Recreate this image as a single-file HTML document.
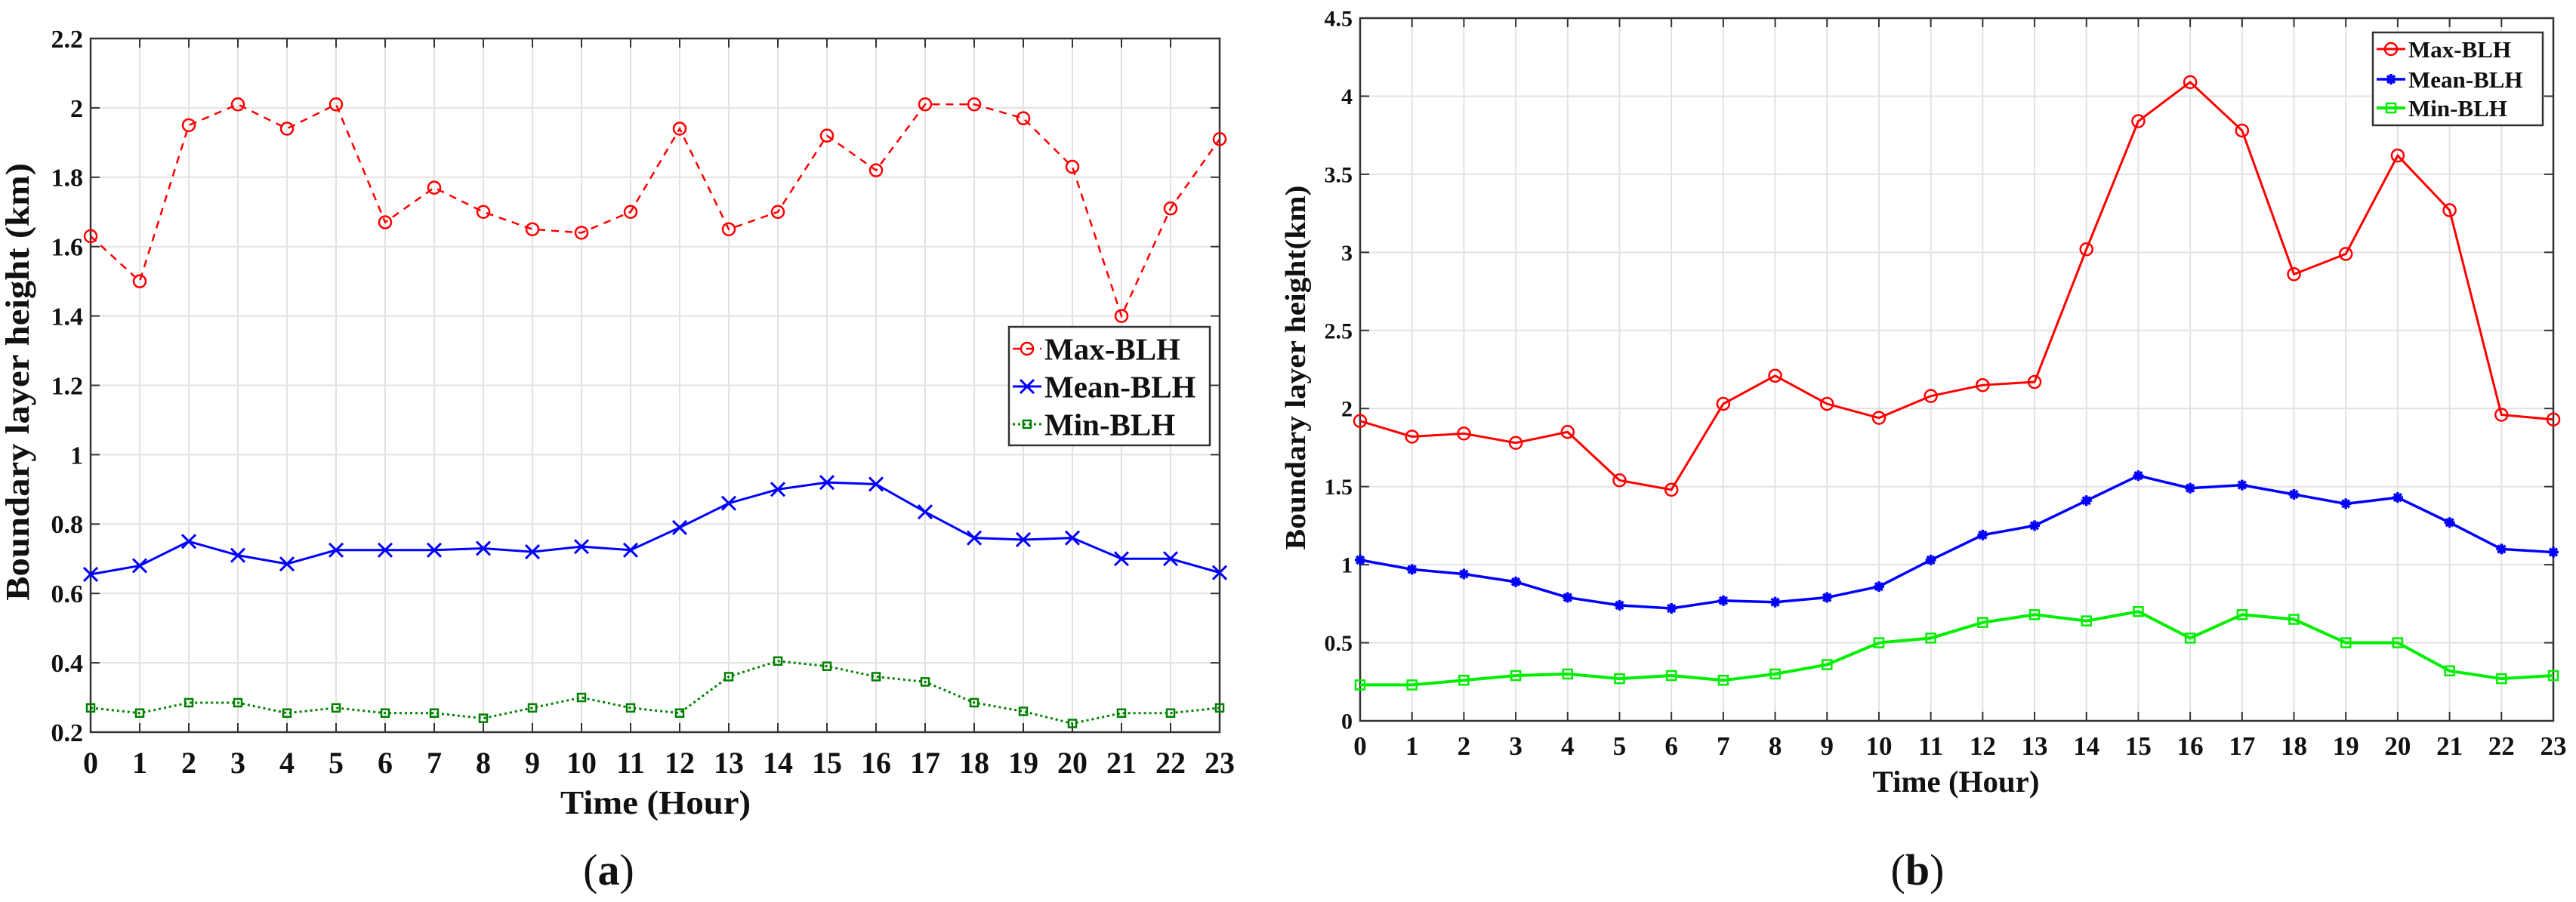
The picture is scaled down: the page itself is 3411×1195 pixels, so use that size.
<!DOCTYPE html>
<html><head><meta charset="utf-8">
<style>
html,body{margin:0;padding:0;background:#fff;}
svg{display:block;}
text{font-family:"Liberation Serif",serif;font-weight:bold;fill:#111;}
</style></head>
<body>
<svg id="fig" width="3411" height="1195" viewBox="0 0 3411 1195" xmlns="http://www.w3.org/2000/svg"></svg>
<script>
const hours = [0,1,2,3,4,5,6,7,8,9,10,11,12,13,14,15,16,17,18,19,20,21,22,23];
const aMax = [1.63,1.50,1.95,2.01,1.94,2.01,1.67,1.77,1.70,1.65,1.64,1.70,1.94,1.65,1.70,1.92,1.82,2.01,2.01,1.97,1.83,1.40,1.71,1.91];
const aMean = [0.655,0.68,0.75,0.71,0.685,0.725,0.725,0.725,0.73,0.72,0.735,0.725,0.79,0.86,0.90,0.92,0.915,0.835,0.76,0.755,0.76,0.70,0.70,0.66];
const aMin = [0.27,0.255,0.285,0.285,0.255,0.27,0.255,0.255,0.24,0.27,0.30,0.27,0.255,0.36,0.405,0.39,0.36,0.345,0.285,0.26,0.225,0.255,0.255,0.27];
const aTicks = [0.2,0.4,0.6,0.8,1,1.2,1.4,1.6,1.8,2,2.2];
const bMax = [1.92,1.82,1.84,1.78,1.85,1.54,1.48,2.03,2.21,2.03,1.94,2.08,2.15,2.17,3.02,3.84,4.09,3.78,2.86,2.99,3.62,3.27,1.96,1.93];
const bMean = [1.03,0.97,0.94,0.89,0.79,0.74,0.72,0.77,0.76,0.79,0.86,1.03,1.19,1.25,1.41,1.57,1.49,1.51,1.45,1.39,1.43,1.27,1.10,1.08];
const bMin = [0.23,0.23,0.26,0.29,0.30,0.27,0.29,0.26,0.30,0.36,0.50,0.53,0.63,0.68,0.64,0.70,0.53,0.68,0.65,0.50,0.50,0.32,0.27,0.29];
const bTicks = [0,0.5,1,1.5,2,2.5,3,3.5,4,4.5];
const bTickLabels = ["0","0.5","1","1.5","2","2.5","3","3.5","4","4.5"];
const seriesNames = ["Max-BLH","Mean-BLH","Min-BLH"];

const NS="http://www.w3.org/2000/svg";
const svg=document.getElementById('fig');
function el(tag,attrs,parent){const e=document.createElementNS(NS,tag);for(const k in attrs)e.setAttribute(k,attrs[k]);(parent||svg).appendChild(e);return e;}
function txt(s,attrs,parent){const e=el('text',attrs,parent);e.textContent=s;return e;}

function marker(g,type,x,y,color,s){
  if(type==='o'){el('circle',{cx:x,cy:y,r:s,fill:'none',stroke:color,'stroke-width':2.5},g);}
  else if(type==='x'){el('path',{d:`M${x-s},${y-s}L${x+s},${y+s}M${x-s},${y+s}L${x+s},${y-s}`,stroke:color,'stroke-width':3,fill:'none'},g);}
  else if(type==='star'){el('path',{d:`M${x-s},${y}L${x+s},${y}M${x},${y-s}L${x},${y+s}M${x-s*.7},${y-s*.7}L${x+s*.7},${y+s*.7}M${x-s*.7},${y+s*.7}L${x+s*.7},${y-s*.7}`,stroke:color,'stroke-width':3.5,fill:'none'},g);}
  else if(type==='s'){el('rect',{x:x-s,y:y-s,width:2*s,height:2*s,fill:'none',stroke:color,'stroke-width':2.5},g);}
}

function chart(cfg){
  const g=el('g',{});
  
  
  const X=h=>cfg.x0+(h-hours[0])/(hours[hours.length-1]-hours[0])*(cfg.x1-cfg.x0);
  const Y=v=>cfg.y1-(v-cfg.ymin)/(cfg.ymax-cfg.ymin)*(cfg.y1-cfg.y0);
  const grid=el('g',{},g);
  
  
  hours.forEach(h=>el('line',{x1:X(h),x2:X(h),y1:cfg.y0,y2:cfg.y1,stroke:'#e2e2e2','stroke-width':2},grid));
  cfg.ticks.forEach(t=>el('line',{x1:cfg.x0,x2:cfg.x1,y1:Y(t),y2:Y(t),stroke:'#e2e2e2','stroke-width':2},grid));
  const box=el('rect',{x:cfg.x0,y:cfg.y0,width:cfg.x1-cfg.x0,height:cfg.y1-cfg.y0,fill:'none',stroke:'#333','stroke-width':2.5},g);
  
  
  hours.forEach(h=>{
    el('line',{x1:X(h),x2:X(h),y1:cfg.y1,y2:cfg.y1-12,stroke:'#333','stroke-width':2},g);
    el('line',{x1:X(h),x2:X(h),y1:cfg.y0,y2:cfg.y0+12,stroke:'#333','stroke-width':2},g);
    const t=txt(String(h),{x:X(h),y:cfg.xlabY,'font-size':cfg.xfs,'text-anchor':'middle'},g);
    
    
  });
  cfg.ticks.forEach((v,i)=>{
    el('line',{x1:cfg.x0,x2:cfg.x0+12,y1:Y(v),y2:Y(v),stroke:'#333','stroke-width':2},g);
    el('line',{x1:cfg.x1,x2:cfg.x1-12,y1:Y(v),y2:Y(v),stroke:'#333','stroke-width':2},g);
    const t=txt(cfg.tickLabels[i],{x:cfg.x0-10,y:Y(v)+cfg.yfs*0.35,'font-size':cfg.yfs,'text-anchor':'end'},g);
    
    
  });
  cfg.series.forEach((s,si)=>{
    const sg=el('g',{},g);
    
    
    const d=s.data.map((v,i)=>(i?'L':'M')+X(hours[i])+','+Y(v)).join('');
    el('path',{d:d,fill:'none',stroke:s.color,'stroke-width':s.w,'stroke-dasharray':s.dash||'none'},sg);
    s.data.forEach((v,i)=>marker(sg,s.m,X(hours[i]),Y(v),s.color,s.ms));
  });
  const xt=txt('Time (Hour)',{x:cfg.xtX,y:cfg.xtY,'font-size':cfg.xtfs,'text-anchor':'middle',textLength:cfg.xtLen,lengthAdjust:'spacingAndGlyphs'},g);
  
  
  const yt=txt(cfg.ytitle,{x:0,y:0,'font-size':cfg.ytfs,'text-anchor':'middle',textLength:cfg.ytLen,lengthAdjust:'spacingAndGlyphs',transform:`translate(${cfg.ytX},${cfg.ytY}) rotate(-90)`},g);
  
  
  const L=cfg.legend;
  const lg=el('g',{},g);
  
  
  el('rect',{x:L.x,y:L.y,width:L.w,height:L.h,fill:'#fff',stroke:'#333','stroke-width':2.5},lg);
  cfg.series.forEach((s,i)=>{
    const cy=L.rows[i];
    const e=el('g',{},lg);
    
    
    el('line',{x1:L.x+5,x2:L.x+43,y1:cy,y2:cy,stroke:s.color,'stroke-width':s.w,'stroke-dasharray':s.dash||'none'},e);
    marker(e,s.m,L.x+24,cy,s.color,s.ms);
    txt(seriesNames[i],{x:L.x+47,y:cy+L.fs*0.35,'font-size':L.fs},e);
  });
  const pl=el('text',{x:cfg.panelX,y:1172,'font-size':58,'text-anchor':'middle'},g);
  
  
  pl.style.fontWeight='normal';
  const p1=el('tspan',{},pl);p1.textContent='(';
  const p2=el('tspan',{'font-weight':'bold'},pl);p2.textContent=cfg.panel;
  const p3=el('tspan',{},pl);p3.textContent=')';
}

chart({name:'chart-a',x0:120,x1:1615,y0:51,y1:970,ymin:0.2,ymax:2.2,ticks:aTicks,tickLabels:aTicks.map(String),
  xfs:40,yfs:34,xlabY:1024,xtX:868,xtY:1078,xtfs:44,xtLen:252,ytitle:'Boundary layer height (km)',ytfs:44,ytLen:580,ytX:38,ytY:506,panel:'a',panelX:806,
  series:[{data:aMax,color:'#ff0000',m:'o',ms:8,w:2.5,dash:'10,8'},{data:aMean,color:'#0000ff',m:'x',ms:9,w:3},{data:aMin,color:'#008000',m:'s',ms:5,w:3,dash:'3,4'}],
  legend:{x:1336,y:433,w:266,h:157,rows:[462,512,562],fs:41}});
chart({name:'chart-b',x0:1801,x1:3381,y0:24,y1:955,ymin:0,ymax:4.5,ticks:bTicks,tickLabels:bTickLabels,
  xfs:35,yfs:30,xlabY:1000,xtX:2590,xtY:1049,xtfs:40,xtLen:221,ytitle:'Boundary layer height(km)',ytfs:38,ytLen:483,ytX:1728,ytY:487,panel:'b',panelX:2539,
  series:[{data:bMax,color:'#ff0000',m:'o',ms:8,w:3},{data:bMean,color:'#0000ff',m:'star',ms:7,w:3.5},{data:bMin,color:'#00ee00',m:'s',ms:6,w:4}],
  legend:{x:3142,y:43,w:225,h:123,rows:[65,105,143],fs:31}});
</script>
</body></html>
